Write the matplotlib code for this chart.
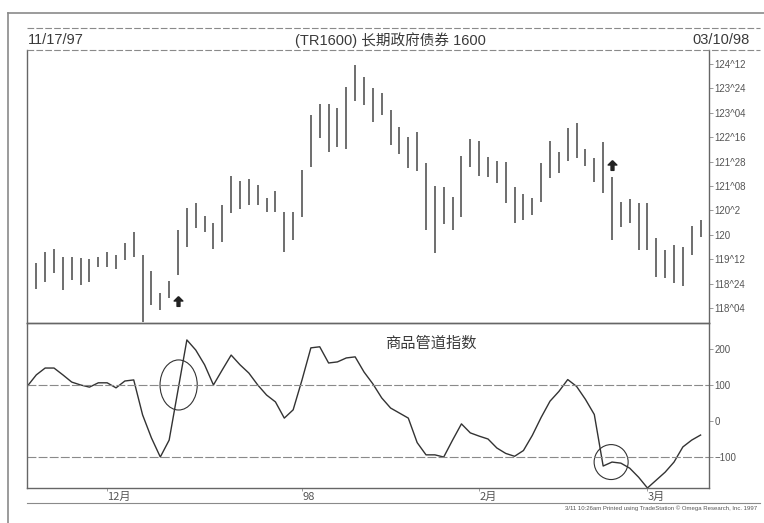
import matplotlib
matplotlib.use("Agg")
import matplotlib.pyplot as plt
from matplotlib.patches import Ellipse
import numpy as np

plt.rcParams['font.family'] = ['Liberation Sans', 'Noto Sans CJK SC', 'DejaVu Sans']

# 每日最高价 / 最低价 (11/17/97 - 03/10/98)
highs = [119.00, 119.28, 119.56, 119.64, 119.43, 119.43, 119.41, 119.38, 119.43, 119.56,
         119.48, 119.79, 120.07, 119.48, 119.07, 118.51, 118.82, 120.12, 120.69, 120.81,
         120.48, 120.30, 120.76, 121.51, 121.38, 121.43, 121.28, 120.94, 121.12, 120.58,
         120.58, 121.66, 123.07, 123.35, 123.35, 123.25, 123.79, 124.35, 124.04, 123.76,
         123.63, 123.20, 122.76, 122.51, 122.63, 121.84, 121.25, 121.22, 120.97, 122.02,
         122.45, 122.40, 121.99, 121.89, 121.86, 121.22, 121.05, 120.94, 121.84, 122.40,
         122.12, 122.74, 122.86, 122.20, 121.97, 122.38, 121.48, 120.84, 120.92, 120.81,
         120.81, 119.92, 119.61, 119.74, 119.69, 120.23, 120.38]
lows = [118.05, 118.61, 118.79, 119.02, 118.59, 118.84, 118.71, 118.79, 119.18, 119.18,
        119.12, 119.35, 119.43, 117.77, 118.20, 118.07, 118.38, 118.97, 119.69, 120.17,
        120.07, 119.64, 119.82, 120.56, 120.66, 120.76, 120.76, 120.58, 120.58, 119.56,
        119.87, 120.46, 121.74, 122.48, 122.12, 122.25, 122.20, 123.43, 123.33, 122.89,
        123.07, 122.30, 122.07, 121.71, 121.63, 120.12, 119.53, 120.28, 120.12, 120.46,
        121.74, 121.51, 121.48, 121.33, 120.81, 120.30, 120.38, 120.51, 120.84, 121.46,
        121.58, 121.89, 121.97, 121.76, 121.35, 121.07, 119.87, 120.20, 120.30, 119.61,
        119.61, 118.92, 118.89, 118.77, 118.69, 119.48, 119.94]

# 商品管道指数 (CCI)
cci = [97, 128, 147, 147, 128, 108, 100, 94, 106, 106,
       92, 111, 114, 17, -47, -100, -53, 86, 225, 197,
       156, 100, 142, 183, 156, 133, 100, 72, 53, 8,
       31, 114, 203, 206, 161, 164, 175, 178, 136, 103,
       64, 36, 22, 8, -60, -94, -94, -100, -53, -8,
       -33, -42, -50, -75, -90, -98, -82, -40, 10, 55,
       82, 115, 96, 60, 18, -125, -114, -117, -131, -156,
       -186, -164, -142, -114, -72, -53, -39]

# 价格轴刻度
price_ticks = [118.125, 118.75, 119.375, 120.0, 120.625, 121.25,
               121.875, 122.5, 123.125, 123.75, 124.375]
price_labels = ["118^04", "118^24", "119^12", "120", "120^2", "121^08",
                "121^28", "122^16", "123^04", "123^24", "124^12"]
cci_ticks = [-100, 0, 100, 200]

# 月份标签: 每月第一个交易日的序号
month_pos = [9, 31, 51, 70]
month_labels = ["12月", "98", "2月", "3月"]

# 信号箭头
up_signal = (17, 118.30)
dn_signal = (66, 121.79)

W, H = 764, 523
fig = plt.figure(figsize=(W / 100, H / 100), dpi=100)
fig.patch.set_facecolor('white')

def box(l, t, r, b):
    return [l / W, 1 - b / H, (r - l) / W, (b - t) / H]

ink = '#3a3a3a'
grey = '#8a8a8a'

# 外框
fig.add_artist(plt.Line2D([8 / W, 8 / W], [0, 1 - 13 / H], color=grey, lw=1.2))
fig.add_artist(plt.Line2D([8 / W, 1], [1 - 13 / H, 1 - 13 / H], color=grey, lw=1.2))
# 标题栏
fig.add_artist(plt.Line2D([27 / W, 760 / W], [1 - 28 / H, 1 - 28 / H], color=grey, lw=0.8, ls=(0, (6, 2))))
fig.add_artist(plt.Line2D([27 / W, 760 / W], [1 - 50 / H, 1 - 50 / H], color=grey, lw=0.8, ls=(0, (6, 2))))
fig.text(28 / W, 1 - 40 / H, "11/17/97", fontsize=10.5, color=ink, va='center', ha='left')
fig.text(750 / W, 1 - 40 / H, "03/10/98", fontsize=10.5, color=ink, va='center', ha='right')
fig.text(390 / W, 1 - 40 / H, "(TR1600) 长期政府债券 1600", fontsize=10.5, color=ink,
         va='center', ha='center')

x = np.arange(len(highs))

# 价格图
ax1 = fig.add_axes(box(27, 50, 709, 323))
ax1.vlines(x, lows, highs, color='#555555', lw=1.2)
up_arrow = [(0, 1), (-0.9, 0.1), (-0.3, 0.1), (-0.3, -1), (0.3, -1), (0.3, 0.1), (0.9, 0.1), (0, 1)]
ax1.plot(*up_signal, marker=up_arrow, ms=7, color='#222222', ls='none')
ax1.plot(*dn_signal, marker=up_arrow, ms=7, color='#222222', ls='none')
ax1.set_xlim(-0.05, 76.95)
ax1.set_ylim(117.74, 124.73)
ax1.yaxis.tick_right()
ax1.set_yticks(price_ticks)
ax1.set_yticklabels(price_labels)
ax1.tick_params(axis='y', direction='out', length=3, width=0.6, colors=grey,
                labelsize=7, labelcolor='#555555', pad=1)
ax1.set_xticks([])
ax1.spines['top'].set_visible(False)
for s in ['left', 'right', 'bottom']:
    ax1.spines[s].set_color('#666666')
    ax1.spines[s].set_linewidth(1.0)

# CCI
ax2 = fig.add_axes(box(27, 323, 709, 488))
ax2.patch.set_alpha(0)
ax2.plot(x, cci, color='#333333', lw=1.0)
ax2.axhline(100, color=grey, lw=0.8, ls=(0, (8, 2)))
ax2.axhline(-100, color=grey, lw=0.8, ls=(0, (8, 2)))
ax2.add_patch(Ellipse((17.07, 100), 4.2, 139, fill=False, color='#333333', lw=0.8))
ax2.add_patch(Ellipse((65.9, -114), 3.84, 97, fill=False, color='#333333', lw=0.8))
ax2.text(45.5, 215, "商品管道指数", fontsize=11, color=ink, ha='center', va='center',
         family=['Noto Sans CJK SC'])
ax2.set_xlim(-0.05, 76.95)
ax2.set_ylim(-186, 272)
ax2.yaxis.tick_right()
ax2.set_yticks(cci_ticks)
ax2.tick_params(axis='y', direction='out', length=3, width=0.6, colors=grey,
                labelsize=7, labelcolor='#555555', pad=1)
ax2.set_xticks(month_pos)
ax2.set_xticklabels(month_labels, ha='left', family=['Noto Sans CJK SC'])
ax2.tick_params(axis='x', direction='out', length=2, width=0.6, colors=grey,
                labelsize=8, labelcolor='#555555', pad=1)
for s in ['top', 'left', 'right', 'bottom']:
    ax2.spines[s].set_color('#666666')
    ax2.spines[s].set_linewidth(1.0)

fig.add_artist(plt.Line2D([27 / W, 760 / W], [1 - 503 / H, 1 - 503 / H], color=grey, lw=0.8))
fig.text(757 / W, 1 - 508 / H,
         "3/11 10:26am Printed using TradeStation \u00a9 Omega Research, Inc. 1997",
         fontsize=4.3, color='#555555', ha='right', va='center')

fig.savefig("out.png", dpi=100)
